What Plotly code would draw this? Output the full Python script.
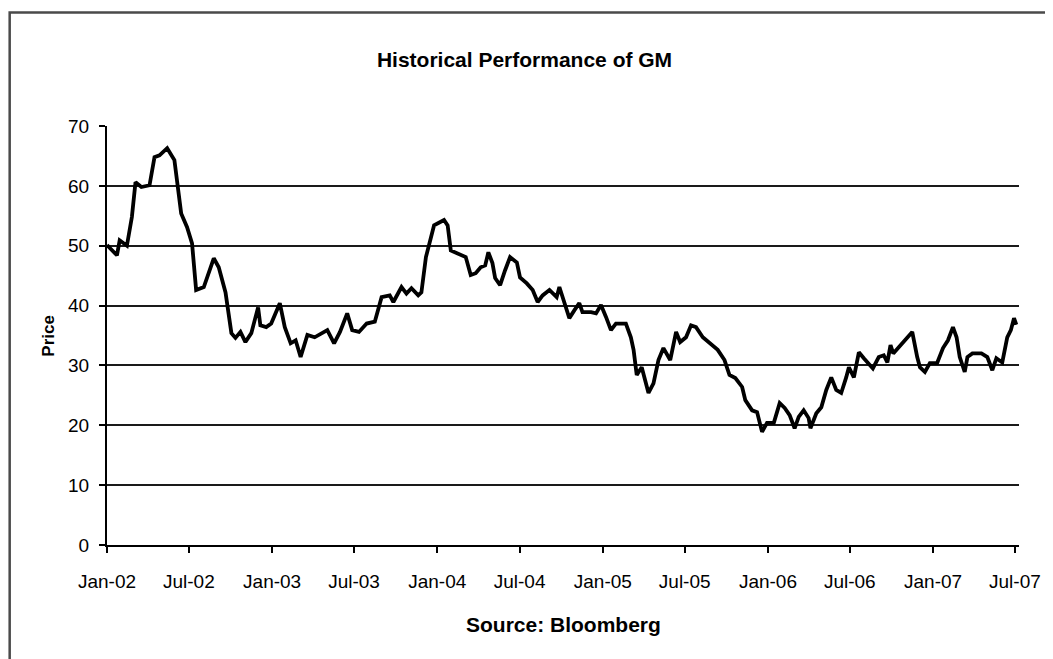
import plotly.graph_objects as go

# ---- data ----
dates = [
    "2002-01-01", "2002-01-23", "2002-01-29", "2002-02-14", "2002-02-25", "2002-03-05",
    "2002-03-18", "2002-04-05", "2002-04-16", "2002-04-27", "2002-05-14", "2002-05-30",
    "2002-06-14", "2002-06-27", "2002-07-08", "2002-07-17", "2002-08-03", "2002-08-25",
    "2002-09-05", "2002-09-20", "2002-10-03", "2002-10-12", "2002-10-23", "2002-11-03",
    "2002-11-16", "2002-12-01", "2002-12-06", "2002-12-19", "2002-12-30", "2003-01-18",
    "2003-01-29", "2003-02-11", "2003-02-22", "2003-03-05", "2003-03-20", "2003-04-05",
    "2003-05-03", "2003-05-18", "2003-05-31", "2003-06-16", "2003-06-27", "2003-07-12",
    "2003-07-29", "2003-08-16", "2003-08-31", "2003-09-18", "2003-09-26", "2003-10-14",
    "2003-10-25", "2003-11-05", "2003-11-20", "2003-11-27", "2003-12-07", "2003-12-14",
    "2003-12-25", "2004-01-16", "2004-01-24", "2004-01-31", "2004-02-15", "2004-03-04",
    "2004-03-15", "2004-03-26", "2004-04-06", "2004-04-16", "2004-04-23", "2004-05-02",
    "2004-05-08", "2004-05-19", "2004-05-30", "2004-06-10", "2004-06-25", "2004-07-02",
    "2004-07-17", "2004-07-30", "2004-08-10", "2004-08-21", "2004-09-05", "2004-09-21",
    "2004-09-27", "2004-10-08", "2004-10-19", "2004-10-30", "2004-11-10", "2004-11-17",
    "2004-12-06", "2004-12-17", "2004-12-28", "2005-01-08", "2005-01-19", "2005-01-30",
    "2005-02-21", "2005-03-04", "2005-03-10", "2005-03-17", "2005-03-28", "2005-04-12",
    "2005-04-23", "2005-05-04", "2005-05-15", "2005-05-30", "2005-06-12", "2005-06-21",
    "2005-07-04", "2005-07-15", "2005-07-26", "2005-08-10", "2005-08-25", "2005-09-12",
    "2005-09-27", "2005-10-08", "2005-10-21", "2005-11-05", "2005-11-12", "2005-11-27",
    "2005-12-08", "2005-12-19", "2005-12-30", "2006-01-14", "2006-01-27", "2006-02-07",
    "2006-02-18", "2006-03-01", "2006-03-10", "2006-03-21", "2006-04-01", "2006-04-05",
    "2006-04-18", "2006-04-29", "2006-05-10", "2006-05-21", "2006-06-01", "2006-06-12",
    "2006-06-23", "2006-06-29", "2006-07-10", "2006-07-21", "2006-08-01", "2006-08-21",
    "2006-09-03", "2006-09-14", "2006-09-22", "2006-09-29", "2006-10-05", "2006-10-21",
    "2006-11-01", "2006-11-16", "2006-11-27", "2006-12-03", "2006-12-14", "2006-12-25",
    "2007-01-10", "2007-01-23", "2007-02-03", "2007-02-14", "2007-02-22", "2007-03-01",
    "2007-03-12", "2007-03-18", "2007-03-29", "2007-04-18", "2007-05-01", "2007-05-12",
    "2007-05-21", "2007-06-03", "2007-06-14", "2007-06-22", "2007-06-29", "2007-07-04",
]
prices = [
    50.1, 48.4, 50.9, 50.0, 54.8, 60.6,
    59.8, 60.1, 64.8, 65.1, 66.3, 64.3,
    55.4, 53.1, 50.4, 42.6, 43.1, 47.9,
    46.4, 42.2, 35.4, 34.6, 35.6, 33.9,
    35.4, 39.7, 36.7, 36.4, 37.0, 40.4,
    36.4, 33.7, 34.2, 31.4, 35.1, 34.7,
    35.9, 33.7, 35.6, 38.7, 35.9, 35.6,
    37.0, 37.3, 41.4, 41.7, 40.6, 43.1,
    42.0, 42.9, 41.7, 42.2, 48.1, 50.4,
    53.4, 54.3, 53.4, 49.2, 48.7, 48.1,
    45.1, 45.4, 46.4, 46.7, 48.9, 47.1,
    44.6, 43.4, 45.9, 48.1, 47.2, 44.7,
    43.7, 42.6, 40.6, 41.7, 42.6, 41.4,
    43.1, 40.6, 37.9, 39.2, 40.4, 38.9,
    38.9, 38.7, 40.1, 38.1, 35.9, 37.0,
    37.0, 34.7, 32.6, 28.4, 29.7, 25.4,
    27.0, 30.9, 32.9, 30.9, 35.6, 33.9,
    34.7, 36.7, 36.4, 34.7, 33.7, 32.6,
    30.9, 28.4, 27.9, 26.4, 24.2, 22.5,
    22.2, 18.9, 20.4, 20.4, 23.7, 22.9,
    21.7, 19.5, 21.4, 22.5, 21.2, 19.5,
    22.0, 23.0, 25.9, 28.0, 25.9, 25.4,
    28.0, 29.7, 28.0, 32.2, 31.2, 29.5,
    31.4, 31.7, 30.5, 33.4, 32.0, 33.4,
    34.2, 35.6, 31.4, 29.7, 28.9, 30.4,
    30.4, 32.9, 34.2, 36.4, 34.7, 31.4,
    28.9, 31.4, 32.0, 32.0, 31.4, 29.2,
    31.2, 30.5, 34.7, 35.9, 37.9, 36.8,
]
tick_dates = [
    "2002-01-01", "2002-07-01", "2003-01-01", "2003-07-01", "2004-01-01", "2004-07-01",
    "2005-01-01", "2005-07-01", "2006-01-01", "2006-07-01", "2007-01-01", "2007-07-01",
]
tick_labels = [
    "Jan-02", "Jul-02", "Jan-03", "Jul-03", "Jan-04", "Jul-04",
    "Jan-05", "Jul-05", "Jan-06", "Jul-06", "Jan-07", "Jul-07",
]
y_ticks = [0, 10, 20, 30, 40, 50, 60, 70]

FONT = "Arial, Liberation Sans, sans-serif"

# page body has an 8px margin, so the figure is drawn 8px in from the window edge
W, H = 1045, 651
L, R, T, B = 99, 23, 118, 114
PW = W - L - R
PH = H - T - B

fig = go.Figure()
fig.add_trace(go.Scatter(
    x=dates, y=prices, mode="lines",
    line=dict(color="black", width=3.8),
    showlegend=False,
))

fig.update_layout(
    width=W, height=H,
    margin=dict(l=L, r=R, t=T, b=B),
    paper_bgcolor="white", plot_bgcolor="white",
    font=dict(family=FONT, color="black", size=19),
    title=dict(
        text="<b>Historical Performance of GM</b>",
        font=dict(family=FONT, size=21, color="black"),
        x=(524.5 - 8) / W, xref="container", xanchor="center",
        y=1 - (59.5 - 8) / H, yref="container", yanchor="middle",
    ),
    xaxis=dict(
        type="date",
        range=["2002-01-01", "2007-07-10"],
        tickmode="array", tickvals=tick_dates, ticktext=tick_labels,
        showgrid=False, zeroline=False,
        showline=True, linecolor="black", linewidth=2,
        ticks="outside", ticklen=6, tickwidth=1.5, tickcolor="black",
        tickfont=dict(family=FONT, size=19, color="black"),
        ticklabelstandoff=12,
    ),
    yaxis=dict(
        range=[0, 70], tickmode="array", tickvals=y_ticks,
        showgrid=True, gridcolor="#1a1a1a", gridwidth=1.7,
        zeroline=False,
        showline=True, linecolor="black", linewidth=2,
        ticks="outside", ticklen=6, tickwidth=1.5, tickcolor="black",
        tickfont=dict(family=FONT, size=19, color="black"),
        ticklabelstandoff=6,
    ),
    annotations=[
        dict(text="<b>Price</b>", textangle=-90, xref="paper", yref="paper",
             x=(47.5 - 8 - L) / PW, y=0.5, xanchor="center", yanchor="middle",
             showarrow=False, font=dict(family=FONT, size=17, color="black")),
        dict(text="<b>Source: Bloomberg</b>", xref="paper", yref="paper",
             x=0.5, y=(PH + T - (624 - 8)) / PH, xanchor="center", yanchor="middle",
             showarrow=False, font=dict(family=FONT, size=21, color="black")),
    ],
    shapes=[
        dict(type="rect", xref="paper", yref="paper",
             x0=(0.5 - L) / PW, x1=(W + 10 - L) / PW,
             y0=(PH + T - (H + 20)) / PH, y1=(PH + T - 4.5) / PH,
             line=dict(color="#4a4a4a", width=2.5), fillcolor="rgba(0,0,0,0)",
             layer="below"),
    ],
)

fig.write_html("out.html")
